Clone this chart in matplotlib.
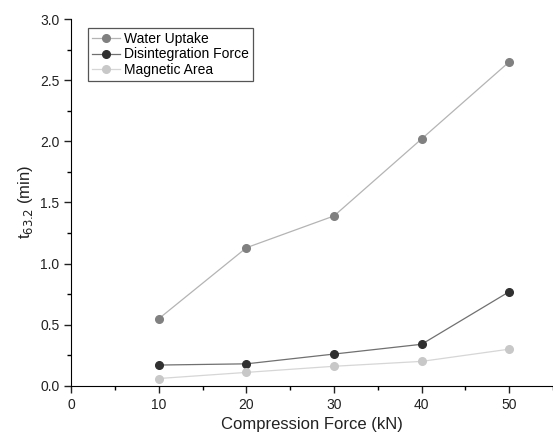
import matplotlib.pyplot as plt
from matplotlib.ticker import MultipleLocator

plt.rcParams['font.family'] = ['Liberation Sans', 'DejaVu Sans']

force = [10, 20, 30, 40, 50]
water_uptake = [0.55, 1.13, 1.39, 2.02, 2.65]
disintegration = [0.17, 0.18, 0.26, 0.34, 0.77]
magnetic_area = [0.06, 0.11, 0.16, 0.20, 0.30]

fig = plt.figure(figsize=(5.53, 4.44), dpi=100)
ax = fig.add_axes([0.129, 0.131, 0.871, 0.826])

ax.plot(force, water_uptake, color='#b4b4b4', lw=0.9, marker='o', ms=5.5,
        mfc='#808080', mec='#808080', label='Water Uptake')
ax.plot(force, disintegration, color='#707070', lw=0.9, marker='o', ms=5.5,
        mfc='#303030', mec='#303030', label='Disintegration Force')
ax.plot(force, magnetic_area, color='#d6d6d6', lw=0.9, marker='o', ms=5.5,
        mfc='#c8c8c8', mec='#c8c8c8', label='Magnetic Area')

ax.set_xlim(0, 55)
ax.set_ylim(0, 3.0)
ax.xaxis.set_minor_locator(MultipleLocator(5))
ax.yaxis.set_minor_locator(MultipleLocator(0.25))
ax.set_xticks([0, 10, 20, 30, 40, 50])
ax.set_yticks([0.0, 0.5, 1.0, 1.5, 2.0, 2.5, 3.0])
ax.yaxis.set_major_formatter(plt.FormatStrFormatter('%.1f'))

for s in ['top', 'right']:
    ax.spines[s].set_visible(False)
ax.tick_params(which='major', direction='out', length=5, width=1, labelsize=10, colors='#222222')
ax.tick_params(which='minor', direction='out', length=3, width=1)

ax.set_xlabel('Compression Force (kN)', fontsize=12, color='#222222')
ax.set_ylabel('t$_{63.2}$ (min)', fontsize=12, color='#222222')

leg = ax.legend(loc='upper left', bbox_to_anchor=(0.02, 0.995), fontsize=10,
                fancybox=False, edgecolor='#555555', framealpha=1,
                handlelength=2.0, borderpad=0.3, labelspacing=0.1, handletextpad=0.3)
leg.get_frame().set_linewidth(0.9)

fig.savefig('out.png', dpi=100)
